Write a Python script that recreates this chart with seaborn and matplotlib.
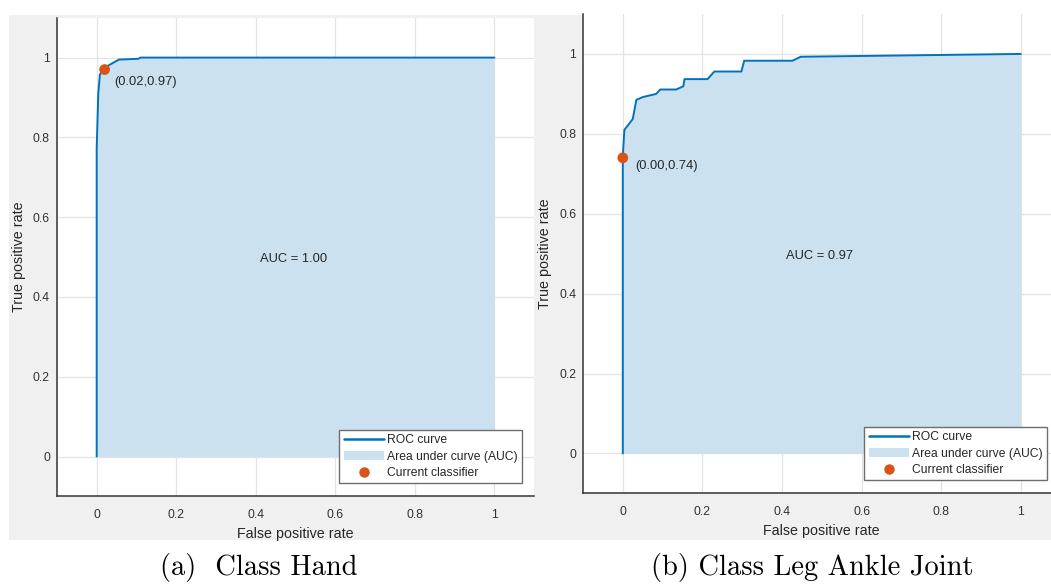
import numpy as np
import pandas as pd
import matplotlib
matplotlib.use("Agg")
import matplotlib.pyplot as plt
from matplotlib.lines import Line2D
from matplotlib.patches import Patch
import seaborn as sns

# ---------------- data ----------------
hand_fpr = [0.0, 0.0, 0.004, 0.008, 0.018, 0.029, 0.056, 0.105, 0.11, 0.17, 1.0]
hand_tpr = [0.0, 0.77, 0.91, 0.957, 0.973, 0.98, 0.995, 0.997, 1.0, 1.0, 1.0]
hand_point = (0.02, 0.97)
hand_auc = 1.00

leg_fpr = [0.0, 0.0, 0.004, 0.025, 0.034, 0.05, 0.084, 0.094, 0.134, 0.152, 0.155,
           0.213, 0.23, 0.298, 0.305, 0.426, 0.447, 1.0]
leg_tpr = [0.0, 0.744, 0.81, 0.837, 0.885, 0.892, 0.90, 0.911, 0.911, 0.919, 0.937,
           0.937, 0.956, 0.956, 0.983, 0.983, 0.993, 1.0]
leg_point = (0.00, 0.74)
leg_auc = 0.97

captions = ["(a)  Class Hand", "(b) Class Leg Ankle Joint"]
tick_vals = [0, 0.2, 0.4, 0.6, 0.8, 1]
tick_labels = ["0", "0.2", "0.4", "0.6", "0.8", "1"]
legend_labels = ["ROC curve", "Area under curve (AUC)", "Current classifier"]

# ---------------- style ----------------
sns.set_theme(style="white")
plt.rcParams["font.family"] = ["Liberation Sans", "DejaVu Sans"]

LINE = "#0072BD"
FILL = "#cbe1f0"
MARK = "#D95319"
GRAYBG = "#f0f0f0"
AXC = "#262626"

fig = plt.figure(figsize=(10.51, 5.84), dpi=100)
fig.patch.set_facecolor("white")
bg = fig.add_axes([9 / 1051, 44 / 584, 1 - 9 / 1051, (540 - 15) / 584])
bg.set_facecolor(GRAYBG)
bg.set_xticks([])
bg.set_yticks([])
for s in bg.spines.values():
    s.set_visible(False)
bg.set_zorder(-5)

axes_pos = [
    [56.9 / 1051, 1 - 496.4 / 584, 477.3 / 1051, (496.4 - 17.7) / 584],
    [583 / 1051, 1 - 493.4 / 584, 477.6 / 1051, (493.4 - 14) / 584],
]

panels = [
    (hand_fpr, hand_tpr, hand_point, hand_auc, (0.045, 0.94), (0.41, 0.495)),
    (leg_fpr, leg_tpr, leg_point, leg_auc, (0.032, 0.72), (0.41, 0.495)),
]

for i, (fpr, tpr, pt, auc, pt_txt, auc_txt) in enumerate(panels):
    ax = fig.add_axes(axes_pos[i])
    ax.set_zorder(1)
    ax.set_facecolor("white")
    df = pd.DataFrame({"fpr": fpr, "tpr": tpr})
    ax.fill_between(df["fpr"], df["tpr"], 0, color=FILL, linewidth=0, zorder=1)
    sns.lineplot(data=df, x="fpr", y="tpr", sort=False, estimator=None,
                 color=LINE, linewidth=1.4, ax=ax, zorder=3)
    sns.scatterplot(x=[pt[0]], y=[pt[1]], color=MARK, s=60, edgecolor="none",
                    ax=ax, zorder=4)
    ax.text(pt_txt[0], pt_txt[1], f"({pt[0]:.2f},{pt[1]:.2f})", fontsize=9.3,
            color=AXC, va="center", ha="left", zorder=5)
    ax.text(auc_txt[0], auc_txt[1], f"AUC = {auc:.2f}", fontsize=9.3,
            color=AXC, va="center", ha="left", zorder=5)

    ax.set_xlim(-0.1, 1.1)
    ax.set_ylim(-0.1, 1.1)
    ax.set_xticks(tick_vals)
    ax.set_xticklabels(tick_labels)
    ax.set_yticks(tick_vals)
    ax.set_yticklabels(tick_labels)
    ax.grid(True, color="#e3e3e3", linewidth=0.9, zorder=0)
    ax.set_axisbelow(True)
    for s in ["top", "right"]:
        ax.spines[s].set_visible(False)
    for s in ["left", "bottom"]:
        ax.spines[s].set_color("#333333")
        ax.spines[s].set_linewidth(1.1)
    ax.tick_params(axis="both", direction="in", length=3, width=0.8,
                   colors="#333333", labelsize=8.8, labelcolor="#333333")
    ax.tick_params(axis="x", pad=9)
    ax.tick_params(axis="y", pad=5)
    ax.set_xlabel("False positive rate", fontsize=10.3, color=AXC, labelpad=4.5)
    ax.set_ylabel("True positive rate", fontsize=10.3, color=AXC, labelpad=5)

    handles = [
        Line2D([0], [0], color=LINE, linewidth=1.8),
        Patch(facecolor=FILL, edgecolor="none"),
        Line2D([0], [0], marker="o", linestyle="none", markersize=7.5,
               markerfacecolor=MARK, markeredgecolor="none"),
    ]
    leg = ax.legend(handles, legend_labels, loc="lower right",
                    bbox_to_anchor=((522 - 56.9) / 477.3 if i == 0 else (1047 - 583) / 477.6,
                                    (496.4 - 483) / 478.7 if i == 0 else (493.4 - 480) / 479.4),
                    fontsize=8.7, frameon=True, fancybox=False, handlelength=3.3,
                    handletextpad=0.3, labelspacing=0.35, borderpad=0.35,
                    borderaxespad=0, framealpha=1)
    leg.get_frame().set_edgecolor("#6e6e6e")
    leg.get_frame().set_linewidth(1.0)
    for t in leg.get_texts():
        t.set_color(AXC)
    leg.set_zorder(6)

fig.text(259 / 1051, 1 - 568 / 584, captions[0], fontsize=20.5, ha="center",
         va="center", family=["cmr10", "DejaVu Serif"], color="black")
fig.text(812 / 1051, 1 - 568 / 584, captions[1], fontsize=20.5, ha="center",
         va="center", family=["cmr10", "DejaVu Serif"], color="black")

fig.savefig("out.png", dpi=100, facecolor="white")
